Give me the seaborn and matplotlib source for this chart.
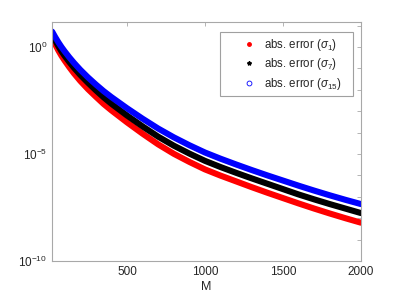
import numpy as np
import pandas as pd
import matplotlib
matplotlib.use('Agg')
import matplotlib.pyplot as plt
import seaborn as sns
from matplotlib.lines import Line2D
from matplotlib.ticker import FixedLocator, NullFormatter

# values (log10 of the absolute error)
M = [20, 40, 60, 80, 100, 130, 160, 200, 250, 300, 350, 400, 500, 600, 700, 800, 900, 1000,
     1100, 1200, 1300, 1400, 1500, 1600, 1700, 1800, 1900, 2000]
log_err_s1 = [0.44, 0.12, -0.16, -0.41, -0.63, -0.94, -1.23, -1.58, -1.97, -2.32, -2.66, -2.96,
              -3.52, -4.05, -4.55, -4.99, -5.37, -5.72, -6.01, -6.28, -6.55, -6.81, -7.06,
              -7.31, -7.55, -7.78, -8.00, -8.21]
log_err_s7 = [0.59, 0.30, 0.04, -0.20, -0.41, -0.70, -0.97, -1.30, -1.67, -2.02, -2.35, -2.65,
              -3.20, -3.71, -4.19, -4.61, -4.98, -5.32, -5.61, -5.88, -6.14, -6.39, -6.64,
              -6.89, -7.12, -7.34, -7.55, -7.76]
log_err_s15 = [0.72, 0.46, 0.22, 0.00, -0.20, -0.48, -0.74, -1.06, -1.42, -1.75, -2.06, -2.34,
               -2.86, -3.35, -3.81, -4.22, -4.59, -4.93, -5.22, -5.49, -5.75, -6.00, -6.24,
               -6.48, -6.71, -6.93, -7.14, -7.34]

labels = [r'abs. error ($\sigma_1$)', r'abs. error ($\sigma_7$)', r'abs. error ($\sigma_{15}$)']
colors = ['#ff0000', '#000000', '#0000ff']

frames = []
for lab, vals in zip(labels, [log_err_s1, log_err_s7, log_err_s15]):
    frames.append(pd.DataFrame({'M': M, 'err': 10.0 ** np.array(vals), 'series': lab}))
df = pd.concat(frames, ignore_index=True)

sns.set_style('white')
plt.rcParams['font.family'] = ['Liberation Sans', 'DejaVu Sans']
plt.rcParams['mathtext.fontset'] = 'custom'
plt.rcParams['mathtext.rm'] = 'Liberation Sans'
plt.rcParams['mathtext.it'] = 'Liberation Sans:italic'

fig = plt.figure(figsize=(3.99, 2.99), dpi=100)
ax = fig.add_axes([0.1303, 0.1271, 0.7744, 0.7993])

sns.lineplot(data=df, x='M', y='err', hue='series', hue_order=labels,
             palette=colors, linewidth=4.4, legend=False, ax=ax,
             solid_joinstyle='round', solid_capstyle='round')

ax.set_yscale('log')
ax.set_xlim(19, 2000)
ax.set_ylim(1e-10, 10 ** 1.17)

ax.set_xticks([500, 1000, 1500, 2000])
ax.yaxis.set_major_locator(FixedLocator([1e-10, 1e-5, 1e0]))
ax.set_yticklabels([r'$10^{-10}$', r'$10^{-5}$', r'$10^{0}$'])
ax.yaxis.set_minor_locator(FixedLocator([10.0 ** k for k in range(-9, 2) if k not in (-5, 0)]))
ax.yaxis.set_minor_formatter(NullFormatter())

spine_col = '#a8a8a8'
for s in ax.spines.values():
    s.set_color(spine_col)
    s.set_linewidth(0.8)
ax.tick_params(which='both', direction='in', top=True, right=True, color=spine_col,
               labelcolor='#262626', labelsize=8.5, width=0.6)
ax.tick_params(which='major', length=3)
ax.tick_params(which='minor', length=3)

ax.set_xlabel('M', fontsize=9, color='#262626', labelpad=2)
ax.set_ylabel('')

handles = [
    Line2D([], [], linestyle='none', marker='.', color='#ff0000', markersize=5),
    Line2D([], [], linestyle='none', marker='*', color='#000000', markersize=3),
    Line2D([], [], linestyle='none', marker='o', markerfacecolor='none',
           markeredgecolor='#0000ff', markersize=3.5, markeredgewidth=0.6),
]
leg = ax.legend(handles, labels, loc='upper left', bbox_to_anchor=(0.544, 0.711, 0.43, 0.247),
                mode='expand', borderaxespad=0, fontsize=8.3, frameon=True, fancybox=False,
                handlelength=4.2, handletextpad=-0.8, borderpad=0.4, labelspacing=0.3)
leg.get_frame().set_edgecolor('#a0a0a0')
leg.get_frame().set_linewidth(0.8)
leg.get_frame().set_alpha(1)

fig.savefig('out.png', dpi=100)
